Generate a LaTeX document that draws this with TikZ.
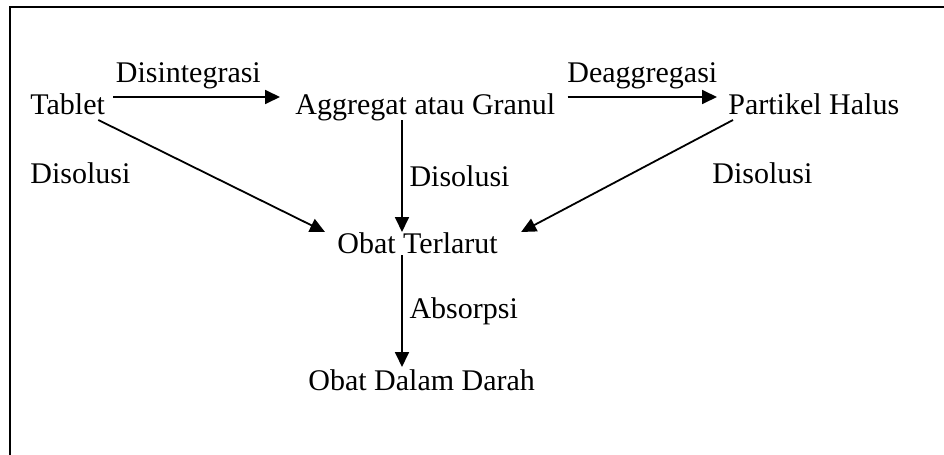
\documentclass[tikz,border=0pt]{standalone}
\usepackage{fontspec}
\setmainfont{Liberation Serif}
\usetikzlibrary{arrows.meta}

\begin{document}
\begin{tikzpicture}[x=0.5pt, y=-0.5pt,
    every node/.style={font=\fontsize{15}{18}\selectfont},
    box/.style={inner sep=0pt, anchor=base west},
    arr/.style={line width=0.9pt, -{Triangle[length=7.5pt,width=7pt]}}]
    \useasboundingbox (0,0) rectangle (944,455);
    \draw[line width=1pt] (944,7) -- (10,7) -- (10,455);

    \node[box] (tablet) at (30,114) {Tablet};
    \node[box] (aggr) at (295,114) {Aggregat atau Granul};
    \node[box] (partikel) at (728,114) {Partikel Halus};
    \node[box] (obat) at (337,253) {Obat Terlarut};
    \node[box] (darah) at (308,390) {Obat Dalam Darah};
    \node[box] (dis1) at (30,183) {Disolusi};
    \node[box] (dis3) at (712,183) {Disolusi};

    % panah
    \draw[arr] ([shift={(8,-17)}]tablet.base east) -- node[above, pos=0.45] {Disintegrasi} ([shift={(-15,-17)}]aggr.base west);
    \draw[arr] ([shift={(12,-17)}]aggr.base east) -- node[above] {Deaggregasi} ([shift={(-11,-17)}]partikel.base west);
    \draw[arr] ([shift={(-7,6)}]tablet.base east) -- ([shift={(-12,-21)}]obat.base west);
    \draw[arr] ([shift={(107,6)}]aggr.base west) -- node[right] {Disolusi} ([shift={(65,-21)}]obat.base west);
    \draw[arr] ([shift={(5,6)}]partikel.base west) -- ([shift={(23,-21)}]obat.base east);
    \draw[arr] ([shift={(65,2)}]obat.base west) -- node[right] {Absorpsi} ([shift={(94,-23)}]darah.base west);
\end{tikzpicture}
\end{document}
